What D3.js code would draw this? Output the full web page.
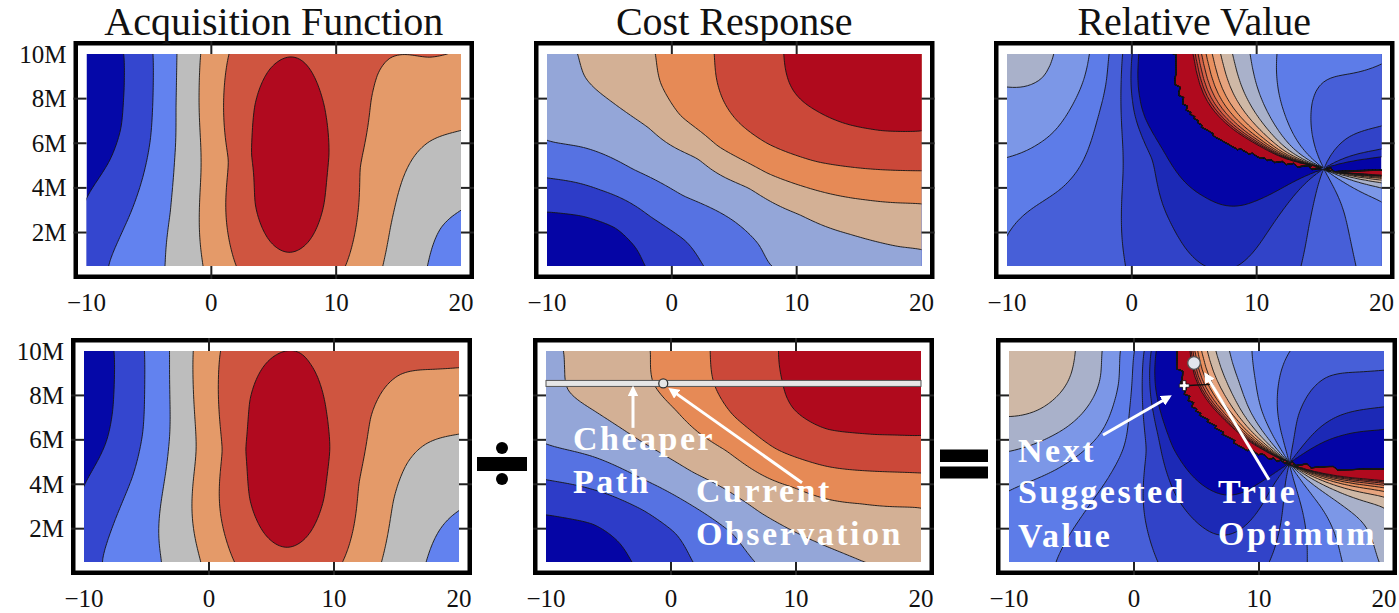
<!DOCTYPE html>
<html>
<head>
<meta charset="utf-8">
<script src="https://cdn.jsdelivr.net/npm/d3@7"></script>
<style>
  body { margin: 0; background: #fff; }
  svg { display: block; font-family: "Liberation Serif", "DejaVu Serif", serif; }
</style>
</head>
<body>
<svg id="chart" width="1399" height="613"></svg>
<script>
// ---------- values ----------
const titles = ["Acquisition Function", "Cost Response", "Relative Value"];
const xTicks = [-10, 0, 10, 20];
const xTickLabels = ["\u221210", "0", "10", "20"];
const yTicks = [2, 4, 6, 8, 10];
const yTickLabels = ["2M", "4M", "6M", "8M", "10M"];

const acqColors = ["#0508a8", "#3446cf", "#6282ef", "#bdbdbd", "#e49a69", "#cf5540", "#b10a1f"];
const costColors = ["#0505a5", "#2d3cc8", "#5672e2", "#94a6d8", "#d3b095", "#e68a56", "#cb4839", "#b00a1d"];
const relColors = ["#0404a6", "#1c29b6", "#3143c8", "#475fd8", "#5d7ce8", "#7c97e7", "#a9b1ca",
                   "#cfb8a6", "#e7a47e", "#e9905f", "#e07a52", "#d66248", "#cb4a3b", "#bf2d2e", "#b00a1e"];

// points lying on each contour line (line k = level k), x in units, y in millions
const acqTopLine1 = [[-6.88,10],[-6.95,8.5],[-7.15,6.73],[-8.08,5.24],[-9.0,4.45],[-9.9,3.74]];
const acqTopLine2 = [[-4.67,10],[-4.67,7.93],[-4.88,6.13],[-5.41,4.64],[-6.48,2.84],[-8.53,0.49]];
const acqTopLine3 = [[-2.75,10],[-2.85,7.6],[-2.96,5.24],[-3.25,2.9],[-3.63,0.49],[17.34,0.49],[18.32,2.24],[20,2.94]];
const acqTopLine4 = [[-0.88,10],[-0.85,5.24],[-0.61,0.49],[13.7,0.49],[14.32,2.24],[15.12,4.04],[16.19,5.38],[17.52,6.13],[20,6.54]];
const acqTopLine5 = [[1.39,10],[1.62,5.24],[1.97,0.49],[10.77,0.5],[11.79,4.94],[12.72,7.93],[13.25,9.13],[14.2,9.91],[15.52,10],[17.52,9.78],[18.85,9.96]];
const acqTopLine6 = [[9.51,5.48],[9.07,7.7],[7.88,9.32],[6.25,9.91],[4.62,9.32],[3.43,7.7],[2.99,5.48],[3.43,3.26],[4.62,1.64],[6.25,1.05],[7.88,1.64],[9.07,3.26]];
const acqTopSpots = [[6.25,5.48,6.6],[-10,10,0.35],[-10,8,0.3],[-10,0.5,1.35],[20,0.5,2.45],[20,10,4.95],[6.25,0.5,5.8],[17.3,10,5.04]];

const acqBotLine1 = [[-7.54,10],[-7.68,7.35],[-8.21,5.85],[-9.01,4.95],[-9.94,4.08]];
const acqBotLine2 = [[-5.14,10],[-5.28,6.3],[-6.08,4.35],[-7.41,2.55],[-8.93,0.53]];
const acqBotLine3 = [[-3.14,10],[-3.28,5.55],[-3.68,0.53],[17.4,0.53],[18.45,1.96],[20,2.78]];
const acqBotLine4 = [[-1.28,10],[-1.01,5.55],[-0.61,0.53],[13.8,0.53],[14.72,3.3],[15.8,4.95],[17.4,5.85],[20,6.22]];
const acqBotLine5 = [[0.86,10],[1.26,5.55],[1.98,0.53],[10.72,0.53],[11.92,4.05],[12.86,7.05],[13.92,8.25],[15.26,9.0],[17.92,9.15],[20,9.3]];
const acqBotLine6 = [[9.74,5.57],[9.27,7.79],[7.99,9.41],[6.23,10],[4.47,9.41],[3.19,7.79],[2.72,5.57],[3.19,3.36],[4.47,1.73],[6.23,1.14],[7.99,1.73],[9.27,3.36]];
const acqBotSpots = [[6.23,5.57,6.6],[-10,10,0.3],[-10,8,0.3],[-10,0.5,1.35],[20,0.5,2.45],[20,10,5.3],[6.23,0.5,5.8]];

const costTopLine1 = [[-10,2.96],[-7.09,2.76],[-4.42,2.24],[-2.82,1.34],[-2.22,0.49]];
const costTopLine2 = [[-10,4.44],[-5.76,3.89],[-1.76,2.69],[1.17,1.64],[2.5,0.49]];
const costTopLine3 = [[-10,6.06],[-7.09,5.83],[-3.09,4.79],[0.9,3.59],[4.9,2.54],[7.04,1.49],[7.7,0.49]];
const costTopLine4 = [[-7.49,10],[-7.09,8.98],[-4.96,7.93],[-1.76,6.73],[2.24,5.38],[6.24,4.04],[10.24,2.84],[14.24,1.94],[18.24,1.34],[19.9,1.29]];
const costTopLine5 = [[-1.23,10],[-0.96,8.68],[0.64,7.18],[3.57,5.83],[7.57,4.64],[11.57,3.89],[15.57,3.47],[19.9,3.32]];
const costTopLine6 = [[3.44,10],[3.84,8.38],[5.44,6.88],[7.57,5.99],[11.57,5.16],[15.57,4.86],[19.9,4.76]];
const costTopLine7 = [[8.96,10],[9.7,8.38],[11.57,7.48],[14.24,6.81],[16.9,6.54],[19.9,6.51]];
const costTopSpots = [[-10,0.5,0.3],[20,10,7.55],[15,10,7.4],[20,0.5,3.75],[-10,10,3.65]];

const costBotLine1 = [[-10,2.66],[-6.21,2.25],[-4.08,1.36],[-3.22,0.5]];
const costBotLine2 = [[-10,4.2],[-6.21,3.75],[-2.21,2.85],[0.45,1.81],[1.65,0.5]];
const costBotLine3 = [[-10,5.78],[-6.21,5.25],[-2.21,4.2],[1.78,3.0],[4.98,1.81],[6.64,0.5]];
const costBotLine4 = [[-8.48,10],[-8.45,9.1],[-8.4,8.2],[-6.22,7.35],[-2.21,5.85],[1.78,4.5],[7.12,2.7],[12.45,1.2],[15.4,0.5]];
const costBotLine5 = [[-1.54,10],[-1.54,8.55],[0.45,7.35],[4.45,5.55],[9.79,3.9],[15.12,3.15],[20,3.0]];
const costBotLine6 = [[3.17,10],[3.38,8.55],[4.98,7.05],[8.45,5.55],[12.45,4.8],[16.45,4.58],[20,4.5]];
const costBotLine7 = [[8.58,10],[9.0,8.6],[9.79,7.35],[12.45,6.45],[16.45,6.22],[20,6.15]];
const costBotSpots = [[-10,0.5,0.3],[20,10,7.6],[15,10,7.45],[20,0.5,4.3],[-10,10,3.85]];

// relative value = acquisition / cost, all lines meet at one point
const relTopCenter = [15.38, 4.86];
const relBotCenter = [12.42, 4.95];
const relLevelIdx = [-2, -1, 0, 1, 2, 3, 4, 5, 6, 7, 8, 9, 10, 11];
// where band edges of known index sit in the figure: [x, y, index]
const relTopMarks = [[-6.56,10,3],[-3.76,10,2],[-2.0,10,1],[-10,7.26,3],[-10,5.4,2],[-10,2.45,1]];
const relBotMarks = [[-10,10,4.85],[-10,7.36,4]];

// annotations
const pathY = 8.54;
const currentObs = [-0.62, 8.54];
const nextSuggested = [4.02, 8.44];
const trueOptimum = [4.8, 9.46];

// ---------- helpers ----------
function solve(M, b) {
  const n = b.length;
  for (let c = 0; c < n; c++) {
    let p = c;
    for (let r = c + 1; r < n; r++) if (Math.abs(M[r][c]) > Math.abs(M[p][c])) p = r;
    [M[c], M[p]] = [M[p], M[c]];
    [b[c], b[p]] = [b[p], b[c]];
    for (let r = c + 1; r < n; r++) {
      const f = M[r][c] / M[c][c];
      if (!f) continue;
      for (let k = c; k < n; k++) M[r][k] -= f * M[c][k];
      b[r] -= f * b[c];
    }
  }
  const x = new Float64Array(n);
  for (let r = n - 1; r >= 0; r--) {
    let s = b[r];
    for (let k = r + 1; k < n; k++) s -= M[r][k] * x[k];
    x[r] = s / M[r][r];
  }
  return x;
}

const toU = x => (x + 10) / 30 * 1.77;
const toV = y => (y - 0.5) / 9.5;
const phi = r => r > 1e-12 ? r * r * Math.log(r) : 0;

// thin plate spline through the read points
function fitField(lines, spots, smooth) {
  const pts = [];
  lines.forEach((ln, k) => ln.forEach(p => pts.push([p[0], p[1], k + 1])));
  spots.forEach(s => pts.push(s));
  const n = pts.length, m = n + 3;
  const U = pts.map(p => toU(p[0])), V = pts.map(p => toV(p[1]));
  const M = [], b = [];
  for (let i = 0; i < m; i++) { M.push(new Float64Array(m)); b.push(i < n ? pts[i][2] : 0); }
  for (let i = 0; i < n; i++) {
    for (let j = 0; j < n; j++) M[i][j] = phi(Math.hypot(U[i] - U[j], V[i] - V[j]));
    M[i][i] += smooth;
    M[i][n] = M[n][i] = 1;
    M[i][n + 1] = M[n + 1][i] = U[i];
    M[i][n + 2] = M[n + 2][i] = V[i];
  }
  const w = solve(M, b);
  return (x, y) => {
    const u = toU(x), v = toV(y);
    let s = w[n] + w[n + 1] * u + w[n + 2] * v;
    for (let i = 0; i < n; i++) s += w[i] * phi(Math.hypot(u - U[i], v - V[i]));
    return s;
  };
}

function ratioField(A, C, c) {
  const a0 = A(c[0], c[1]), c0 = C(c[0], c[1]);
  return (x, y) => {
    let r = (A(x, y) - a0) / (C(x, y) - c0);
    if (!isFinite(r)) r = 0;
    return Math.max(-60, Math.min(60, r));
  };
}

// band step that puts the known band edges where they are in the figure
function bandStep(R, marks) {
  let num = 0, den = 0;
  marks.forEach(([x, y, k]) => { num += R(x, y) * k; den += k * k; });
  return num / den;
}

const svg = d3.select("#chart");
const defs = svg.append("defs");
defs.append("marker").attr("id", "head")
  .attr("viewBox", "0 0 10 10").attr("refX", 7).attr("refY", 5)
  .attr("markerWidth", 3.6).attr("markerHeight", 3.6).attr("orient", "auto")
  .append("path").attr("d", "M0,0L10,5L0,10z").attr("fill", "#fff");

let clipCount = 0;
function drawPanel(p) {
  const sx = d3.scaleLinear().domain([-10, 20]).range(p.xr);
  const sy = d3.scaleLinear().domain([0.5, 10]).range([p.yr[1], p.yr[0]]);
  const id = "clip" + (clipCount++);
  defs.append("clipPath").attr("id", id).append("rect")
    .attr("x", p.xr[0]).attr("y", p.yr[0])
    .attr("width", p.xr[1] - p.xr[0]).attr("height", p.yr[1] - p.yr[0]);

  const [nx, ny] = p.grid;
  const cw = 30 / nx, ch = 9.5 / ny;
  const NX = nx + 2, NY = ny + 2;
  const x0 = -10 - cw, yTop = 10 + ch;
  const vals = new Float64Array(NX * NY);
  for (let j = 0; j < NY; j++)
    for (let i = 0; i < NX; i++)
      vals[j * NX + i] = p.field(x0 + (i + 0.5) * cw, yTop - (j + 0.5) * ch);
  const contours = d3.contours().size([NX, NY]).thresholds(p.levels)(vals);
  const path = d3.geoPath(d3.geoTransform({
    point(x, y) { this.stream.point(sx(x0 + x * cw), sy(yTop - y * ch)); }
  }));

  const body = svg.append("g").attr("clip-path", `url(#${id})`);
  body.append("rect")
    .attr("x", p.xr[0]).attr("y", p.yr[0])
    .attr("width", p.xr[1] - p.xr[0]).attr("height", p.yr[1] - p.yr[0])
    .attr("fill", p.colors[0]);
  body.append("g").selectAll("path").data(contours).join("path")
    .attr("d", path).attr("fill", (d, i) => p.colors[i + 1]);
  body.append("g").selectAll("path").data(contours).join("path")
    .attr("d", path).attr("fill", "none")
    .attr("stroke", "#151515").attr("stroke-width", 1).attr("stroke-opacity", 0.9);

  // frame
  const gap = 13;
  const fr = svg.append("g");
  fr.append("rect")
    .attr("x", p.xr[0] - gap + 2.25).attr("y", p.yr[0] - gap + 2.25)
    .attr("width", p.xr[1] - p.xr[0] + 2 * gap - 4.5).attr("height", p.yr[1] - p.yr[0] + 2 * gap - 4.5)
    .attr("fill", "none").attr("stroke", "#000").attr("stroke-width", 4.5);
  xTicks.filter(t => t > -10 && t < 20).forEach(t => {
    fr.append("line").attr("x1", sx(t)).attr("x2", sx(t)).attr("y1", p.yr[0] - gap).attr("y2", p.yr[0])
      .attr("stroke", "#222").attr("stroke-width", 2);
    fr.append("line").attr("x1", sx(t)).attr("x2", sx(t)).attr("y1", p.yr[1]).attr("y2", p.yr[1] + gap)
      .attr("stroke", "#222").attr("stroke-width", 2);
  });
  yTicks.filter(t => t < 10).forEach(t => {
    fr.append("line").attr("x1", p.xr[0] - gap).attr("x2", p.xr[0]).attr("y1", sy(t)).attr("y2", sy(t))
      .attr("stroke", "#222").attr("stroke-width", 2);
    fr.append("line").attr("x1", p.xr[1]).attr("x2", p.xr[1] + gap).attr("y1", sy(t)).attr("y2", sy(t))
      .attr("stroke", "#222").attr("stroke-width", 2);
  });
  xTicks.forEach((t, i) => {
    fr.append("text").attr("x", sx(t)).attr("y", p.yr[1] + gap + 32)
      .attr("text-anchor", "middle").attr("font-size", 25).attr("fill", "#111")
      .text(xTickLabels[i]);
  });
  if (p.yLabels) {
    yTicks.forEach((t, i) => {
      fr.append("text").attr("x", p.xr[0] - gap - 7).attr("y", sy(t))
        .attr("text-anchor", "end").attr("dominant-baseline", "central")
        .attr("font-size", 25).attr("fill", "#111").text(yTickLabels[i]);
    });
  }
  if (p.title) {
    svg.append("text").attr("x", (p.xr[0] + p.xr[1]) / 2).attr("y", p.yr[0] - gap - 6)
      .attr("text-anchor", "middle").attr("font-size", 40).attr("fill", "#111").text(p.title);
  }
  return { sx, sy };
}

// ---------- fields ----------
const acqTop = fitField([acqTopLine1, acqTopLine2, acqTopLine3, acqTopLine4, acqTopLine5, acqTopLine6], acqTopSpots, 0.012);
const acqBot = fitField([acqBotLine1, acqBotLine2, acqBotLine3, acqBotLine4, acqBotLine5, acqBotLine6], acqBotSpots, 0.012);
const costTop = fitField([costTopLine1, costTopLine2, costTopLine3, costTopLine4, costTopLine5, costTopLine6, costTopLine7], costTopSpots, 0.008);
const costBot = fitField([costBotLine1, costBotLine2, costBotLine3, costBotLine4, costBotLine5, costBotLine6, costBotLine7], costBotSpots, 0.008);
const relTop = ratioField(acqTop, costTop, relTopCenter);
const relBot = ratioField(acqBot, costBot, relBotCenter);
const relStepTop = bandStep(relTop, relTopMarks);
const relStepBot = bandStep(relBot, relBotMarks);

const acqLevels = [1, 2, 3, 4, 5, 6];
const costLevels = [1, 2, 3, 4, 5, 6, 7];

const rows = [[54, 266], [351, 562]];
const cols = [
  [[86.5, 461], [547, 921.5], [1007, 1381.5]],
  [[84, 459], [546, 921], [1009, 1384]]
];

drawPanel({ xr: cols[0][0], yr: rows[0], field: acqTop, levels: acqLevels, colors: acqColors, grid: [150, 85], yLabels: true, title: titles[0] });
drawPanel({ xr: cols[0][1], yr: rows[0], field: costTop, levels: costLevels, colors: costColors, grid: [150, 85], title: titles[1] });
drawPanel({ xr: cols[0][2], yr: rows[0], field: relTop, levels: relLevelIdx.map(k => k * relStepTop), colors: relColors, grid: [100, 100], title: titles[2] });
drawPanel({ xr: cols[1][0], yr: rows[1], field: acqBot, levels: acqLevels, colors: acqColors, grid: [150, 85], yLabels: true });
const costP = drawPanel({ xr: cols[1][1], yr: rows[1], field: costBot, levels: costLevels, colors: costColors, grid: [150, 85] });
const relP = drawPanel({ xr: cols[1][2], yr: rows[1], field: relBot, levels: relLevelIdx.map(k => k * relStepBot), colors: relColors, grid: [100, 100] });

// ---------- annotations ----------
function label(g, x, y, txt) {
  g.append("text").attr("x", x).attr("y", y).attr("fill", "#fff")
    .attr("font-size", 34).attr("font-weight", "bold").attr("letter-spacing", 2.5).text(txt);
}
function arrow(g, s, from, to) {
  g.append("line")
    .attr("x1", s.sx(from[0])).attr("y1", s.sy(from[1]))
    .attr("x2", s.sx(to[0])).attr("y2", s.sy(to[1]))
    .attr("stroke", "#fff").attr("stroke-width", 3).attr("marker-end", "url(#head)");
}

const ann = svg.append("g");
ann.append("rect")
  .attr("x", costP.sx(-10)).attr("y", costP.sy(pathY) - 3)
  .attr("width", costP.sx(20) - costP.sx(-10)).attr("height", 6)
  .attr("fill", "#e6e6e6").attr("stroke", "#555").attr("stroke-width", 1);
ann.append("circle").attr("cx", costP.sx(currentObs[0])).attr("cy", costP.sy(currentObs[1])).attr("r", 4.5)
  .attr("fill", "#e6e6e6").attr("stroke", "#333").attr("stroke-width", 1.3);
arrow(ann, costP, [-3.04, 6.54], [-3.04, 8.3]);
arrow(ann, costP, [10.48, 4.07], [0.0, 8.25]);
label(ann, costP.sx(-7.84), costP.sy(5.55), "Cheaper");
label(ann, costP.sx(-7.84), costP.sy(3.62), "Path");
label(ann, costP.sx(2.0), costP.sy(3.21), "Current");
label(ann, costP.sx(2.0), costP.sy(1.28), "Observation");

ann.append("line")
  .attr("x1", relP.sx(nextSuggested[0])).attr("y1", relP.sy(nextSuggested[1]))
  .attr("x2", relP.sx(6.2)).attr("y2", relP.sy(8.5))
  .attr("stroke", "#111").attr("stroke-width", 1.5);
ann.append("path").attr("d", d3.symbol(d3.symbolCross).size(55)())
  .attr("transform", `translate(${relP.sx(nextSuggested[0])},${relP.sy(nextSuggested[1])})`)
  .attr("fill", "#fff").attr("stroke", "#111").attr("stroke-width", 0.8);
ann.append("circle").attr("cx", relP.sx(trueOptimum[0])).attr("cy", relP.sy(trueOptimum[1])).attr("r", 6.3)
  .attr("fill", "#e2e6ee").attr("stroke", "#555").attr("stroke-width", 1.3);
arrow(ann, relP, [-2.48, 6.22], [2.8, 7.93]);
arrow(ann, relP, [10.8, 4.2], [5.76, 8.92]);
label(ann, relP.sx(-9.28), relP.sy(5.01), "Next");
label(ann, relP.sx(-9.28), relP.sy(3.17), "Suggested");
label(ann, relP.sx(-9.28), relP.sy(1.19), "Value");
label(ann, relP.sx(6.72), relP.sy(3.17), "True");
label(ann, relP.sx(6.72), relP.sy(1.28), "Optimum");

// operators between panels
const ops = svg.append("g").attr("fill", "#000");
ops.append("rect").attr("x", 477).attr("y", 457).attr("width", 50).attr("height", 14);
ops.append("circle").attr("cx", 502).attr("cy", 448).attr("r", 6);
ops.append("circle").attr("cx", 502).attr("cy", 479).attr("r", 6);
ops.append("rect").attr("x", 940).attr("y", 449.5).attr("width", 48).attr("height", 12.5);
ops.append("rect").attr("x", 940).attr("y", 466.5).attr("width", 48).attr("height", 12);
</script>
</body>
</html>
